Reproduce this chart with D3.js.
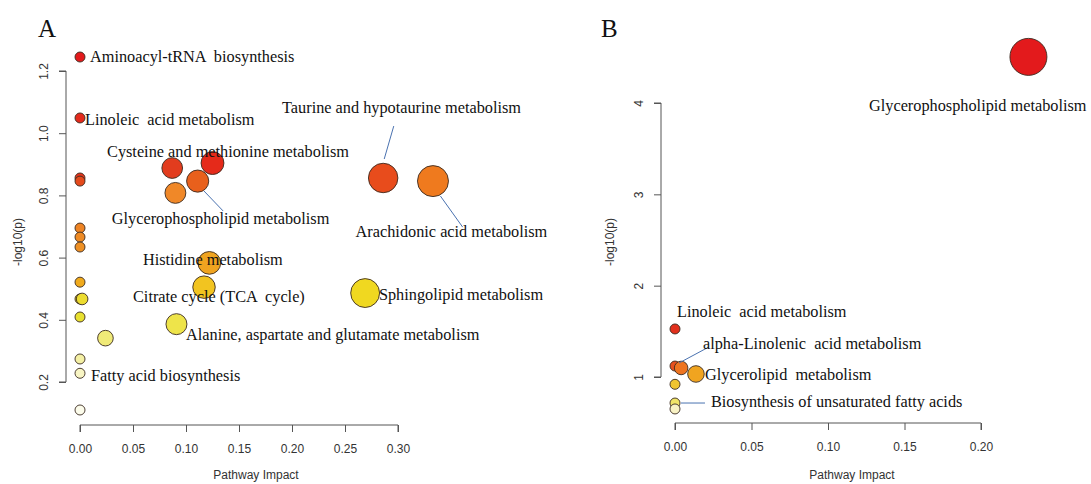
<meta charset="utf-8">
<style>
    body { margin: 0; background: #ffffff; }
    .lbl { font-family: "Liberation Serif", "Times New Roman", serif; font-size: 16.3px; fill: #111; white-space: pre; }
    .tick text { font-family: "Liberation Sans", Arial, sans-serif; font-size: 12px; fill: #333; }
    .axtitle { font-family: "Liberation Sans", Arial, sans-serif; font-size: 12px; fill: #333; }
    .panel { font-family: "Liberation Serif", "Times New Roman", serif; font-size: 25px; fill: #111; }
    .lead { stroke: #4a72b0; stroke-width: 1; }
</style>
<body>
<script src="https://cdn.jsdelivr.net/npm/d3@7"></script>
<script>

// ---- panel A data ----
const impactA = [0, 0, 0, 0, 0.087, 0.125, 0.111, 0.090, 0.286, 0.333,
                 0, 0, 0, 0, 0, 0.002, 0, 0.024, 0.122, 0.117, 0.091, 0.269, 0, 0, 0];
const logpA   = [1.245, 1.049, 0.856, 0.846, 0.888, 0.904, 0.846, 0.808, 0.856, 0.846,
                 0.695, 0.666, 0.634, 0.521, 0.467, 0.467, 0.409, 0.341, 0.583, 0.505, 0.386, 0.486, 0.274, 0.228, 0.110];
const colorA  = ["#e31a1c", "#e32a1c", "#e3341c", "#e54a1c", "#e23c1e", "#e52a1a", "#e8601c", "#f08828", "#e84c1c", "#ef7a1e",
                 "#ee8424", "#ee8a24", "#ee9024", "#f0aa1c", "#e8d622", "#ecdc30", "#e8e030", "#f0ea78", "#f0a420", "#f2c420", "#eee44a", "#f0d820", "#f4f0a4", "#f8f5c4", "#fcfceb"];

const labelsA = [
    {text: "Aminoacyl-tRNA  biosynthesis", x: 0.0094, y: 1.245},
    {text: "Linoleic  acid metabolism", x: 0.0047, y: 1.042},
    {text: "Cysteine and methionine metabolism", x: 0.0255, y: 0.940},
    {text: "Glycerophospholipid metabolism", x: 0.030, y: 0.724},
    {text: "Taurine and hypotaurine metabolism", x: 0.1906, y: 1.081},
    {text: "Arachidonic acid metabolism", x: 0.260, y: 0.682},
    {text: "Histidine metabolism", x: 0.0594, y: 0.592},
    {text: "Citrate cycle (TCA  cycle)", x: 0.050, y: 0.473},
    {text: "Sphingolipid metabolism", x: 0.282, y: 0.480},
    {text: "Alanine, aspartate and glutamate metabolism", x: 0.100, y: 0.351},
    {text: "Fatty acid biosynthesis", x: 0.0104, y: 0.219}
];
const leadersA = [
    [0.117, 0.814, 0.135, 0.750],
    [0.296, 1.023, 0.287, 0.917],
    [0.340, 0.798, 0.361, 0.698]
];
const xTicksA = [0, 0.05, 0.10, 0.15, 0.20, 0.25, 0.30];
const yTicksA = [0.2, 0.4, 0.6, 0.8, 1.0, 1.2];

// ---- panel B data ----
const impactB = [0.231, 0, 0, 0.004, 0.0137, 0, 0, 0];
const logpB   = [4.505, 1.526, 1.120, 1.099, 1.033, 0.920, 0.715, 0.650];
const colorB  = ["#e31a1c", "#e2301c", "#e6501e", "#ee7420", "#f0a420", "#f0c430", "#f0e468", "#f8f2c4"];

const labelsB = [
    {text: "Glycerophospholipid metabolism", x: 0.1268, y: 3.968},
    {text: "Linoleic  acid metabolism", x: 0.0013, y: 1.712},
    {text: "alpha-Linolenic  acid metabolism", x: 0.0183, y: 1.361},
    {text: "Glycerolipid  metabolism", x: 0.0196, y: 1.022},
    {text: "Biosynthesis of unsaturated fatty acids", x: 0.0235, y: 0.726}
];
const leadersB = [
    [0.0026, 1.153, 0.0222, 1.329],
    [0.0039, 0.715, 0.0196, 0.715]
];
const xTicksB = [0, 0.05, 0.10, 0.15, 0.20];
const yTicksB = [1, 2, 3, 4];

const W = 1091, H = 484;
const svg = d3.select("body").append("svg").attr("width", W).attr("height", H);

function panel(opt) {
    const x = d3.scaleLinear().domain(opt.xDomain).range(opt.xRange);
    const y = d3.scaleLinear().domain(opt.yDomain).range(opt.yRange);
    const r = d3.scalePow().exponent(0.5).domain([0, d3.max(opt.impact)]).range([5, opt.rMax]);
    const g = svg.append("g");

    const xAxis = g.append("g")
        .attr("transform", "translate(0," + opt.xAxisY + ")")
        .call(d3.axisBottom(x).tickValues(opt.xTicks).tickFormat(d3.format(".2f")).tickSize(7).tickPadding(12));
    xAxis.select(".domain").attr("d", "M" + x(opt.xTicks[0]) + ",7V0H" + x(opt.xTicks[opt.xTicks.length - 1]) + "V7");

    const yAxis = g.append("g")
        .attr("transform", "translate(" + opt.yAxisX + ",0)")
        .call(d3.axisLeft(y).tickValues(opt.yTicks).tickFormat(opt.yFormat).tickSize(7).tickPadding(0));
    yAxis.select(".domain").attr("d", "M-7," + y(opt.yTicks[0]) + "H0V" + y(opt.yTicks[opt.yTicks.length - 1]) + "H-7");
    yAxis.selectAll(".tick text")
        .attr("text-anchor", "middle")
        .attr("x", 0).attr("dy", 0)
        .attr("transform", "translate(-18,0) rotate(-90)");

    g.selectAll(".domain, .tick line").attr("stroke", "#555");

    g.append("text").attr("class", "axtitle")
        .attr("x", opt.xTitleX).attr("y", 479)
        .attr("text-anchor", "middle")
        .text("Pathway Impact");
    g.append("text").attr("class", "axtitle")
        .attr("transform", "translate(" + opt.yTitleX + ",242) rotate(-90)")
        .attr("text-anchor", "middle")
        .text("-log10(p)");

    g.append("text").attr("class", "panel")
        .attr("x", opt.letterX).attr("y", 37)
        .text(opt.letter);

    const pts = opt.impact.map((d, i) => ({ix: d, lp: opt.logp[i], c: opt.colors[i]}));
    g.selectAll("circle").data(pts).join("circle")
        .attr("cx", d => x(d.ix))
        .attr("cy", d => y(d.lp))
        .attr("r", d => r(d.ix))
        .attr("fill", d => d.c)
        .attr("stroke", "#3a2a20")
        .attr("stroke-width", 0.9);

    g.selectAll("line.lead").data(opt.leaders).join("line")
        .attr("class", "lead")
        .attr("x1", d => x(d[0])).attr("y1", d => y(d[1]))
        .attr("x2", d => x(d[2])).attr("y2", d => y(d[3]));

    g.selectAll("text.lbl").data(opt.labels).join("text")
        .attr("class", "lbl")
        .attr("x", d => x(d.x))
        .attr("y", d => y(d.y))
        .attr("dy", "0.32em")
        .text(d => d.text);
}

panel({
    impact: impactA, logp: logpA, colors: colorA, labels: labelsA, leaders: leadersA,
    xTicks: xTicksA, yTicks: yTicksA, yFormat: d3.format(".1f"),
    xDomain: [0, 0.3], xRange: [80, 398],
    yDomain: [0.2, 1.2], yRange: [382, 71],
    xAxisY: 425, yAxisX: 66, rMax: 15.5,
    xTitleX: 256, yTitleX: 22, letterX: 38, letter: "A"
});

panel({
    impact: impactB, logp: logpB, colors: colorB, labels: labelsB, leaders: leadersB,
    xTicks: xTicksB, yTicks: yTicksB, yFormat: d3.format("d"),
    xDomain: [0, 0.2], xRange: [675, 981],
    yDomain: [1, 4], yRange: [377, 103],
    xAxisY: 423, yAxisX: 661, rMax: 18.5,
    xTitleX: 852, yTitleX: 614, letterX: 601, letter: "B"
});

</script>
